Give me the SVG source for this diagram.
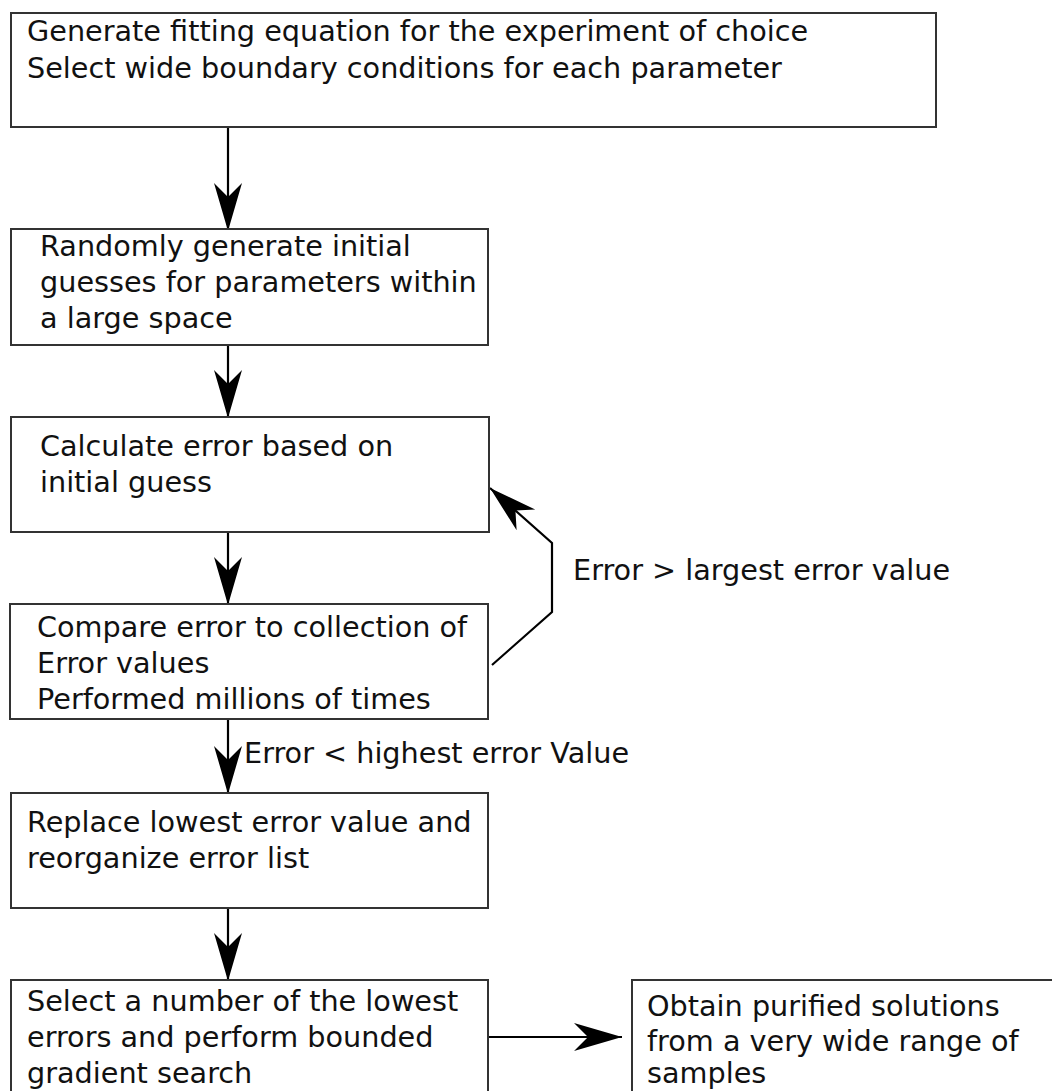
<svg xmlns="http://www.w3.org/2000/svg" width="1052" height="1091" viewBox="0 0 1052 1091">
<style>
.box{fill:#fff;stroke:#333;stroke-width:2}
.t{font-family:"DejaVu Sans",sans-serif;font-size:28.7px;fill:#111}
.c{fill:none;stroke:#000;stroke-width:2.2}
</style>
<defs>
<marker id="ah" markerUnits="userSpaceOnUse" markerWidth="60" markerHeight="40" viewBox="-55 -20 60 40" refX="0" refY="0" orient="auto">
<path d="M0,0 L-48,-14 L-34,0 L-48,14 Z" fill="#000"/>
</marker>
</defs>
<rect width="1052" height="1091" fill="#fff"/>
<g id="connectors">
<line class="c" x1="228" y1="127" x2="228" y2="231" marker-end="url(#ah)"/>
<line class="c" x1="228" y1="345" x2="228" y2="418" marker-end="url(#ah)"/>
<line class="c" x1="228" y1="532" x2="228" y2="605" marker-end="url(#ah)"/>
<polyline class="c" points="492,665 552,612 552,543 490,488" marker-end="url(#ah)"/>
<line class="c" x1="228" y1="719" x2="228" y2="794" marker-end="url(#ah)"/>
<line class="c" x1="228" y1="908" x2="228" y2="981" marker-end="url(#ah)"/>
<line class="c" x1="488" y1="1037" x2="622" y2="1037" marker-end="url(#ah)"/>
<text class="t" x="573" y="580">Error &gt; largest error value</text>
<text class="t" x="244" y="763">Error &lt; highest error Value</text>
</g>
<g id="n1">
<rect class="box" x="11" y="13" width="925" height="114"/>
<text class="t" x="27" y="41">Generate fitting equation for the experiment of choice</text>
<text class="t" x="27" y="78">Select wide boundary conditions for each parameter</text>
</g>
<g id="n2">
<rect class="box" x="11" y="229" width="477" height="116"/>
<text class="t" x="40" y="256">Randomly generate initial</text>
<text class="t" x="40" y="292">guesses for parameters within</text>
<text class="t" x="40" y="328">a large space</text>
</g>
<g id="n3">
<rect class="box" x="11" y="417" width="478" height="115"/>
<text class="t" x="40" y="456">Calculate error based on</text>
<text class="t" x="40" y="492">initial guess</text>
</g>
<g id="n4">
<rect class="box" x="10" y="604" width="478" height="115"/>
<text class="t" x="37" y="637">Compare error to collection of</text>
<text class="t" x="37" y="673">Error values</text>
<text class="t" x="37" y="709">Performed millions of times</text>
</g>
<g id="n5">
<rect class="box" x="11" y="793" width="477" height="115"/>
<text class="t" x="27" y="832">Replace lowest error value and</text>
<text class="t" x="27" y="868">reorganize error list</text>
</g>
<g id="n6">
<rect class="box" x="11" y="980" width="477" height="130"/>
<text class="t" x="27" y="1011">Select a number of the lowest</text>
<text class="t" x="27" y="1047">errors and perform bounded</text>
<text class="t" x="27" y="1083">gradient search</text>
</g>
<g id="n7">
<rect class="box" x="632" y="980" width="430" height="130"/>
<text class="t" x="647" y="1016">Obtain purified solutions</text>
<text class="t" x="647" y="1051">from a very wide range of</text>
<text class="t" x="647" y="1083">samples</text>
</g>
</svg>
